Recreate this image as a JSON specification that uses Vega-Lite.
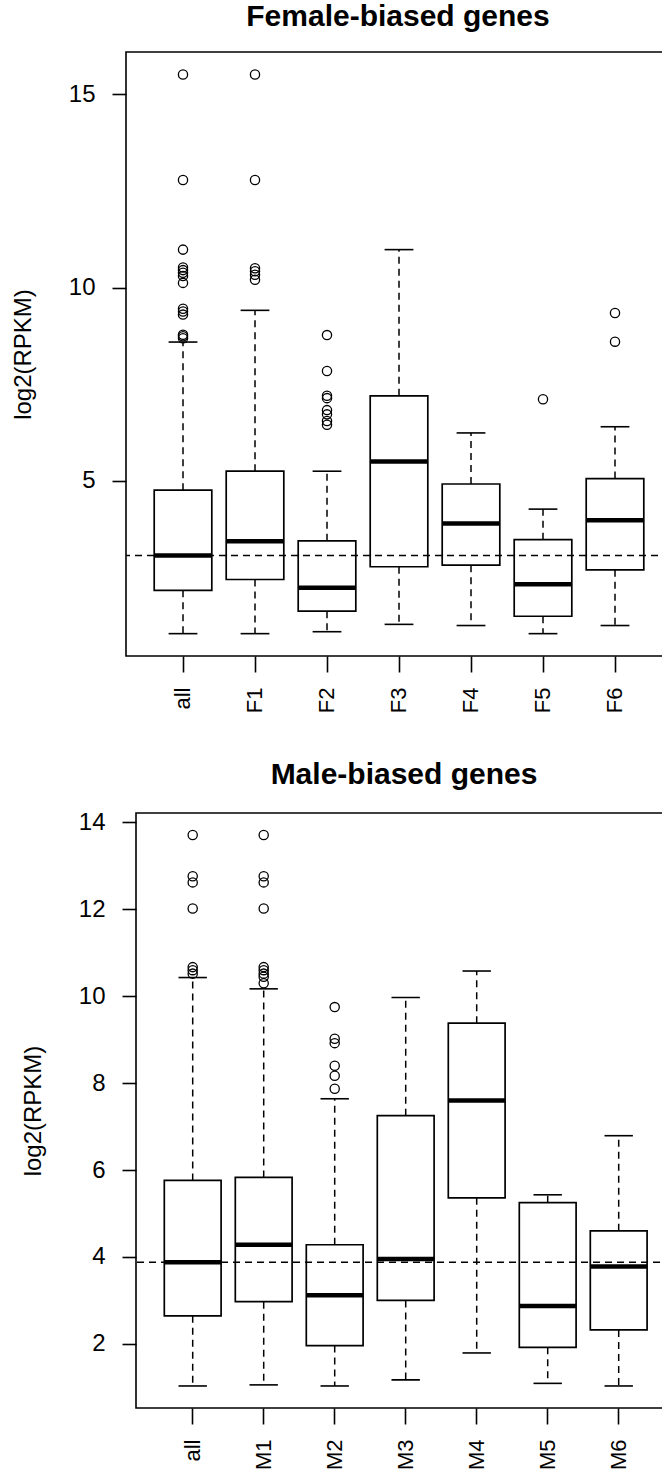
{
  "$schema": "https://vega.github.io/schema/vega-lite/v6.json",
  "background": "white",
  "padding": {"left": 10, "top": 1, "right": 0, "bottom": 0},
  "config": {
    "font": "Liberation Sans",
    "view": {"stroke": "#000", "strokeWidth": 1.6},
    "axis": {
      "domain": false,
      "grid": false,
      "labelFont": "Liberation Sans",
      "labelFontSize": 22,
      "labelColor": "#000",
      "titleFont": "Liberation Sans",
      "titleFontSize": 24,
      "titleFontWeight": "normal",
      "titleColor": "#000",
      "tickColor": "#000",
      "tickWidth": 1.6
    },
    "axisY": {"tickSize": 14, "labelPadding": 17, "labelFontSize": 24, "titlePadding": 33},
    "axisX": {"tickSize": 16, "labelPadding": 15, "labelAngle": -90},
    "title": {
      "font": "Liberation Sans",
      "fontSize": 30,
      "fontWeight": "bold",
      "color": "#000",
      "anchor": "middle",
      "baseline": "alphabetic",
      "offset": 20
    }
  },
  "datasets": {
    "female": [
      {"group": "all", "lo": 1.05, "q1": 2.17, "median": 3.07, "q3": 4.76, "hi": 8.59},
      {"group": "F1", "lo": 1.05, "q1": 2.45, "median": 3.44, "q3": 5.25, "hi": 9.41},
      {"group": "F2", "lo": 1.10, "q1": 1.63, "median": 2.24, "q3": 3.45, "hi": 5.25},
      {"group": "F3", "lo": 1.29, "q1": 2.78, "median": 5.50, "q3": 7.20, "hi": 10.98},
      {"group": "F4", "lo": 1.26, "q1": 2.82, "median": 3.90, "q3": 4.92, "hi": 6.24},
      {"group": "F5", "lo": 1.05, "q1": 1.50, "median": 2.33, "q3": 3.48, "hi": 4.27},
      {"group": "F6", "lo": 1.26, "q1": 2.70, "median": 3.98, "q3": 5.06, "hi": 6.40}
    ],
    "female_out": [
      {"group": "all", "value": 15.51}, {"group": "all", "value": 12.78}, {"group": "all", "value": 10.98},
      {"group": "all", "value": 10.52}, {"group": "all", "value": 10.45}, {"group": "all", "value": 10.38},
      {"group": "all", "value": 10.30}, {"group": "all", "value": 10.12}, {"group": "all", "value": 9.45},
      {"group": "all", "value": 9.38}, {"group": "all", "value": 9.30}, {"group": "all", "value": 8.78},
      {"group": "all", "value": 8.74}, {"group": "all", "value": 8.69},
      {"group": "F1", "value": 15.51}, {"group": "F1", "value": 12.78}, {"group": "F1", "value": 10.50},
      {"group": "F1", "value": 10.42}, {"group": "F1", "value": 10.33}, {"group": "F1", "value": 10.20},
      {"group": "F2", "value": 8.77}, {"group": "F2", "value": 7.84}, {"group": "F2", "value": 7.20},
      {"group": "F2", "value": 7.14}, {"group": "F2", "value": 6.83}, {"group": "F2", "value": 6.72},
      {"group": "F2", "value": 6.55}, {"group": "F2", "value": 6.45},
      {"group": "F5", "value": 7.11},
      {"group": "F6", "value": 9.34}, {"group": "F6", "value": 8.60}
    ],
    "male": [
      {"group": "all", "lo": 1.03, "q1": 2.645, "median": 3.88, "q3": 5.76, "hi": 10.43},
      {"group": "M1", "lo": 1.055, "q1": 2.97, "median": 4.28, "q3": 5.83, "hi": 10.17},
      {"group": "M2", "lo": 1.03, "q1": 1.96, "median": 3.12, "q3": 4.28, "hi": 7.64},
      {"group": "M3", "lo": 1.17, "q1": 3.00, "median": 3.95, "q3": 7.25, "hi": 9.97},
      {"group": "M4", "lo": 1.79, "q1": 5.36, "median": 7.60, "q3": 9.38, "hi": 10.58},
      {"group": "M5", "lo": 1.09, "q1": 1.92, "median": 2.87, "q3": 5.25, "hi": 5.43},
      {"group": "M6", "lo": 1.03, "q1": 2.32, "median": 3.78, "q3": 4.60, "hi": 6.79}
    ],
    "male_out": [
      {"group": "all", "value": 13.71}, {"group": "all", "value": 12.76}, {"group": "all", "value": 12.62},
      {"group": "all", "value": 12.02}, {"group": "all", "value": 10.67}, {"group": "all", "value": 10.60},
      {"group": "all", "value": 10.52},
      {"group": "M1", "value": 13.71}, {"group": "M1", "value": 12.76}, {"group": "M1", "value": 12.62},
      {"group": "M1", "value": 12.02}, {"group": "M1", "value": 10.67}, {"group": "M1", "value": 10.60},
      {"group": "M1", "value": 10.52}, {"group": "M1", "value": 10.45}, {"group": "M1", "value": 10.30},
      {"group": "M2", "value": 9.75}, {"group": "M2", "value": 9.02}, {"group": "M2", "value": 8.92},
      {"group": "M2", "value": 8.40}, {"group": "M2", "value": 8.17}, {"group": "M2", "value": 7.87}
    ]
  },
  "center": true,
  "bounds": "flush",
  "spacing": 157,
  "vconcat": [
    {
      "title": {"text": "Female-biased genes", "dx": -18},
      "width": 580,
      "height": 604,
      "data": {"name": "female"},
      "layer": [
        {
          "mark": {"type": "rule", "color": "#000", "strokeWidth": 1.5, "strokeDash": [7, 5]},
          "encoding": {
            "x": {
              "field": "group", "type": "nominal", "sort": null,
              "scale": {"type": "band", "domain": ["all", "F1", "F2", "F3", "F4", "F5", "F6"], "paddingInner": 0.2, "paddingOuter": 0.6278, "align": 0.312, "round": false},
              "axis": {"title": null}
            },
            "y": {
              "field": "q3", "type": "quantitative",
              "scale": {"domain": [0.472, 16.09], "nice": false, "zero": false},
              "axis": {"title": "log2(RPKM)", "values": [5, 10, 15]}
            },
            "y2": {"field": "hi"}
          }
        },
        {
          "mark": {"type": "rule", "color": "#000", "strokeWidth": 1.5, "strokeDash": [7, 5]},
          "encoding": {
            "x": {"field": "group", "type": "nominal", "sort": null},
            "y": {"field": "q1", "type": "quantitative"},
            "y2": {"field": "lo"}
          }
        },
        {
          "mark": {"type": "tick", "orient": "horizontal", "color": "#000", "opacity": 1, "size": 28.8, "thickness": 1.6},
          "encoding": {
            "x": {"field": "group", "type": "nominal", "sort": null},
            "y": {"field": "hi", "type": "quantitative"}
          }
        },
        {
          "mark": {"type": "tick", "orient": "horizontal", "color": "#000", "opacity": 1, "size": 28.8, "thickness": 1.6},
          "encoding": {
            "x": {"field": "group", "type": "nominal", "sort": null},
            "y": {"field": "lo", "type": "quantitative"}
          }
        },
        {
          "mark": {"type": "bar", "fill": "white", "stroke": "#000", "strokeWidth": 1.7},
          "encoding": {
            "x": {"field": "group", "type": "nominal", "sort": null},
            "y": {"field": "q1", "type": "quantitative"},
            "y2": {"field": "q3"}
          }
        },
        {
          "mark": {"type": "tick", "orient": "horizontal", "color": "#000", "opacity": 1, "size": 57.6, "thickness": 4.5},
          "encoding": {
            "x": {"field": "group", "type": "nominal", "sort": null},
            "y": {"field": "median", "type": "quantitative"}
          }
        },
        {
          "data": {"name": "female_out"},
          "mark": {"type": "point", "shape": "circle", "filled": false, "color": "#000", "opacity": 1, "size": 85, "strokeWidth": 1.3},
          "encoding": {
            "x": {"field": "group", "type": "nominal", "sort": null},
            "y": {"field": "value", "type": "quantitative"}
          }
        },
        {
          "transform": [{"filter": "datum.group === 'all'"}],
          "mark": {"type": "rule", "color": "#000", "strokeWidth": 1.5, "strokeDash": [7, 5]},
          "encoding": {
            "y": {"field": "median", "type": "quantitative"}
          }
        }
      ]
    },
    {
      "title": {"text": "Male-biased genes", "dx": -12},
      "width": 560,
      "height": 595,
      "data": {"name": "male"},
      "layer": [
        {
          "mark": {"type": "rule", "color": "#000", "strokeWidth": 1.5, "strokeDash": [7, 5]},
          "encoding": {
            "x": {
              "field": "group", "type": "nominal", "sort": null,
              "scale": {"type": "band", "domain": ["all", "M1", "M2", "M3", "M4", "M5", "M6"], "paddingInner": 0.2, "paddingOuter": 0.5437, "align": 0.3666, "round": false},
              "axis": {"title": null}
            },
            "y": {
              "field": "q3", "type": "quantitative",
              "scale": {"domain": [0.523, 14.217], "nice": false, "zero": false},
              "axis": {"title": "log2(RPKM)", "values": [2, 4, 6, 8, 10, 12, 14]}
            },
            "y2": {"field": "hi"}
          }
        },
        {
          "mark": {"type": "rule", "color": "#000", "strokeWidth": 1.5, "strokeDash": [7, 5]},
          "encoding": {
            "x": {"field": "group", "type": "nominal", "sort": null},
            "y": {"field": "q1", "type": "quantitative"},
            "y2": {"field": "lo"}
          }
        },
        {
          "mark": {"type": "tick", "orient": "horizontal", "color": "#000", "opacity": 1, "size": 28.4, "thickness": 1.6},
          "encoding": {
            "x": {"field": "group", "type": "nominal", "sort": null},
            "y": {"field": "hi", "type": "quantitative"}
          }
        },
        {
          "mark": {"type": "tick", "orient": "horizontal", "color": "#000", "opacity": 1, "size": 28.4, "thickness": 1.6},
          "encoding": {
            "x": {"field": "group", "type": "nominal", "sort": null},
            "y": {"field": "lo", "type": "quantitative"}
          }
        },
        {
          "mark": {"type": "bar", "fill": "white", "stroke": "#000", "strokeWidth": 1.7},
          "encoding": {
            "x": {"field": "group", "type": "nominal", "sort": null},
            "y": {"field": "q1", "type": "quantitative"},
            "y2": {"field": "q3"}
          }
        },
        {
          "mark": {"type": "tick", "orient": "horizontal", "color": "#000", "opacity": 1, "size": 56.8, "thickness": 4.5},
          "encoding": {
            "x": {"field": "group", "type": "nominal", "sort": null},
            "y": {"field": "median", "type": "quantitative"}
          }
        },
        {
          "data": {"name": "male_out"},
          "mark": {"type": "point", "shape": "circle", "filled": false, "color": "#000", "opacity": 1, "size": 85, "strokeWidth": 1.3},
          "encoding": {
            "x": {"field": "group", "type": "nominal", "sort": null},
            "y": {"field": "value", "type": "quantitative"}
          }
        },
        {
          "transform": [{"filter": "datum.group === 'all'"}],
          "mark": {"type": "rule", "color": "#000", "strokeWidth": 1.5, "strokeDash": [7, 5]},
          "encoding": {
            "y": {"field": "median", "type": "quantitative"}
          }
        }
      ]
    }
  ]
}
